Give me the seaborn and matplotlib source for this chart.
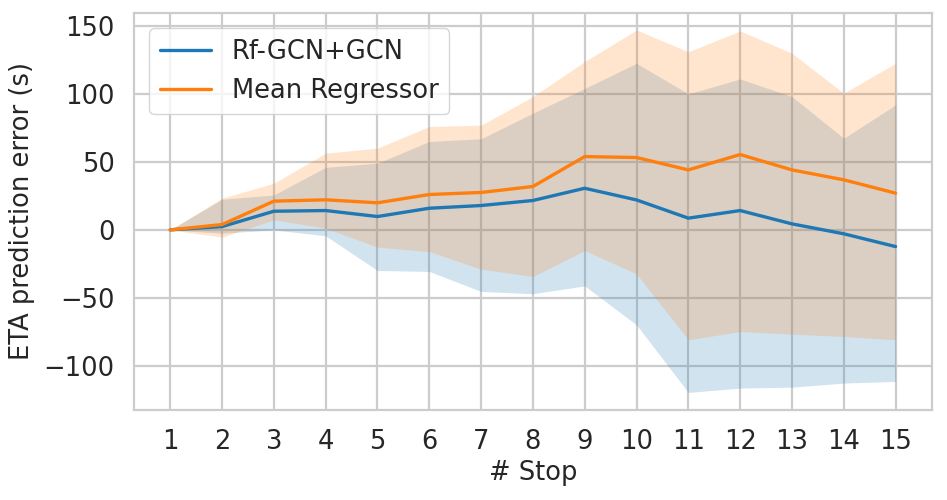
import matplotlib
matplotlib.use("Agg")
import matplotlib.pyplot as plt
import seaborn as sns
import numpy as np
import pandas as pd

stops = list(range(1, 16))
gcn_mean = [0, 2.4, 13.7, 14.2, 9.8, 15.9, 17.9, 21.6, 30.6, 22.0, 8.6, 14.2, 4.4, -2.9, -12.3]
gcn_upper = [0, 22.5, 25.7, 46, 49, 65, 67, 85.8, 104, 122.5, 100, 111, 98, 67.4, 91.9]
gcn_lower = [0, -2.5, 0, -4.4, -29.9, -30.6, -45.3, -47, -41.2, -69.9, -119.6, -116.4, -115.7, -112.7, -111.5]
mean_mean = [0, 3.9, 21.1, 22.1, 19.9, 26, 27.5, 31.9, 53.9, 53.2, 44.1, 55.4, 44.1, 36.8, 27]
mean_upper = [0, 23.3, 34.3, 56.4, 60.1, 76, 77, 98, 123.8, 147, 131, 146.3, 129.9, 100.5, 122.5]
mean_lower = [0, -5.4, 7.4, 1.2, -12.7, -16, -28.9, -34.3, -15.2, -32.4, -80.9, -74.8, -76.7, -78.4, -80.9]
series_names = ["Rf-GCN+GCN", "Mean Regressor"]
xticks = stops
yticks = [-100, -50, 0, 50, 100, 150]

sns.set_theme(style="whitegrid")
plt.rcParams['font.family'] = ['DejaVu Sans']

fig, ax = plt.subplots(figsize=(9.47, 5), dpi=100)
fig.subplots_adjust(left=0.1415, right=0.984, top=0.974, bottom=0.18)

df = pd.DataFrame({
    "stop": stops * 2,
    "value": gcn_mean + mean_mean,
    "model": [series_names[0]] * 15 + [series_names[1]] * 15,
})
colors = ["#1f77b4", "#ff7f0e"]
sns.lineplot(data=df, x="stop", y="value", hue="model", palette=colors, linewidth=2.4, ax=ax)
ax.fill_between(stops, gcn_lower, gcn_upper, color=colors[0], alpha=0.2, linewidth=0)
ax.fill_between(stops, mean_lower, mean_upper, color=colors[1], alpha=0.2, linewidth=0)

ax.set_xticks(xticks)
ax.set_yticks(yticks)
ax.set_xlim(0.3, 15.7)
ax.set_ylim(-132.5, 159.5)
ax.tick_params(labelsize=18.5, pad=8)
ax.set_xlabel("# Stop", fontsize=18.5, labelpad=3)
ax.set_ylabel("ETA prediction error (s)", fontsize=18.5, labelpad=6)
for sp in ax.spines.values():
    sp.set_color("#cccccc")
    sp.set_linewidth(1.6)
ax.grid(color="#cccccc", linewidth=1.6)
leg = ax.legend(loc="upper left", fontsize=18.5, frameon=True, borderaxespad=0.6)
leg.set_title(None)

fig.savefig("out.png", dpi=100)
